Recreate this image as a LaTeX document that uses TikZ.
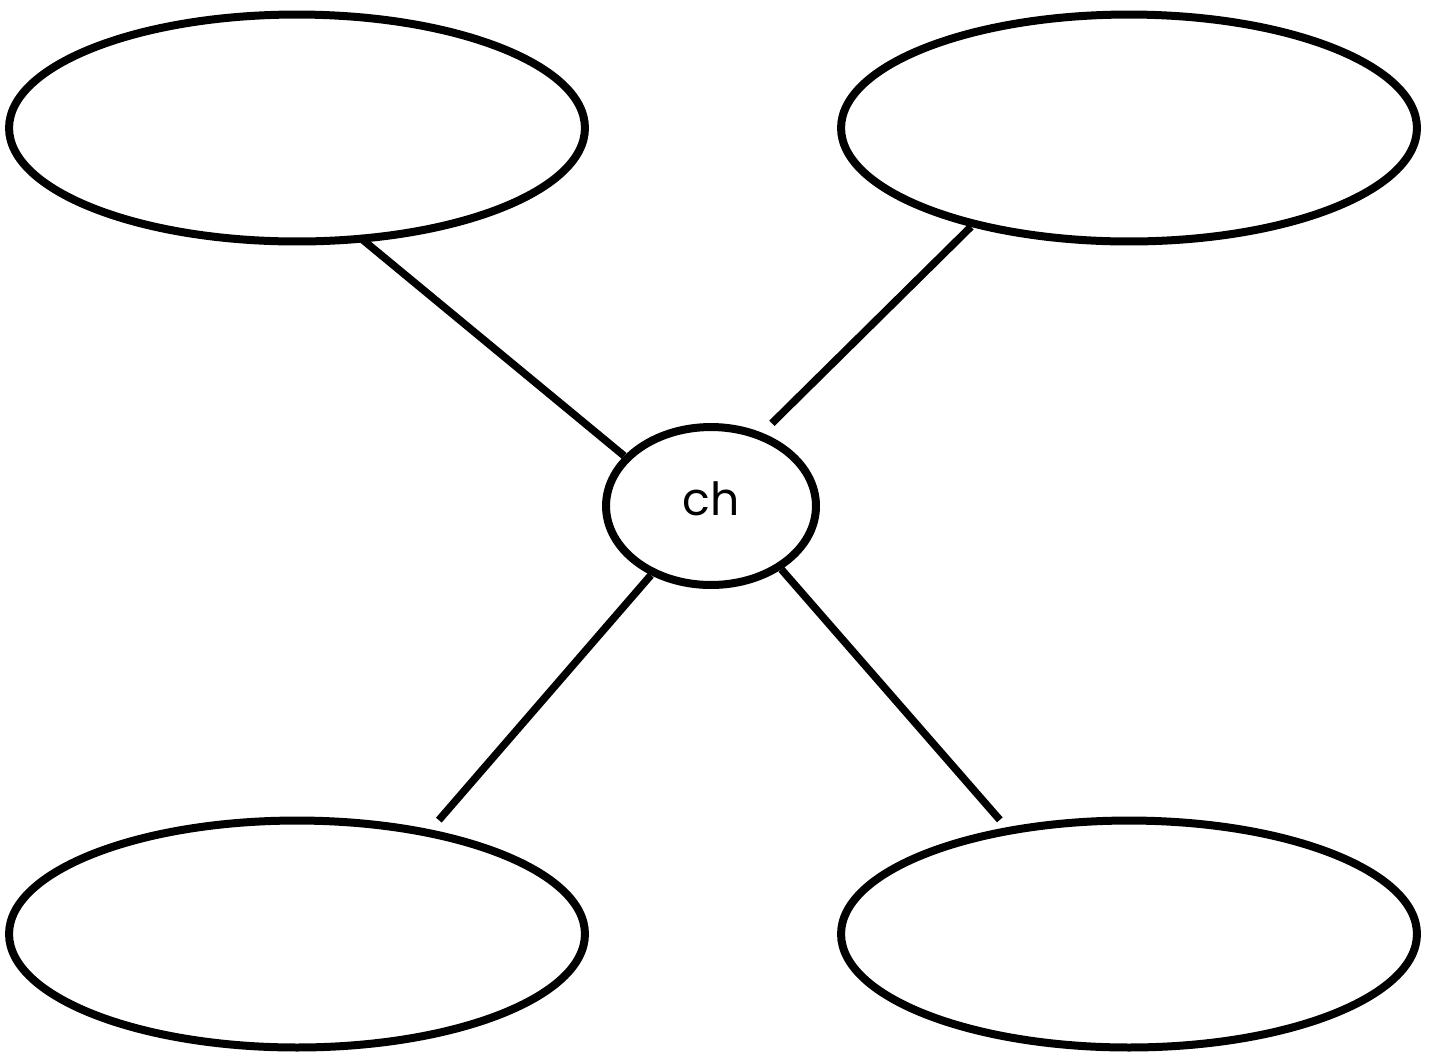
\documentclass[tikz,border=0pt]{standalone}
\usepackage{fontspec}
\setmainfont{Poppins}
\usepackage{tikz}
\usetikzlibrary{shapes.geometric}

\begin{document}
\begin{tikzpicture}[x=0.02cm, y=-0.02cm,
    bubble/.style={draw, ellipse, line width=0.16cm, inner sep=0pt, minimum width=11.52cm, minimum height=4.54cm},
    hub/.style={draw, ellipse, line width=0.16cm, inner sep=0pt, minimum width=4.2cm, minimum height=3.16cm, font=\fontsize{26}{30}\selectfont},
    spoke/.style={black, line width=0.15cm}]
          \useasboundingbox (0,0) rectangle (1435,1056);
          \node[hub] (ch) at (711,506) {\raisebox{0.3cm}{ch}};
          \node[bubble] (tl) at (297,128) {};
          \node[bubble] (tr) at (1129,128) {};
          \node[bubble] (bl) at (297,934) {};
          \node[bubble] (br) at (1129,934) {};
          \draw[spoke, shorten <=-0.15cm] (tl.-59) -- (ch.150);
          \draw[spoke, shorten >=0.27cm] (tr.-148) -- (ch.55);
          \draw[spoke, shorten <=0.25cm] (bl.38) -- (ch.-131);
          \draw[spoke, shorten <=0.2cm] (br.139) -- (ch.-42);
        \end{tikzpicture}
\end{document}
